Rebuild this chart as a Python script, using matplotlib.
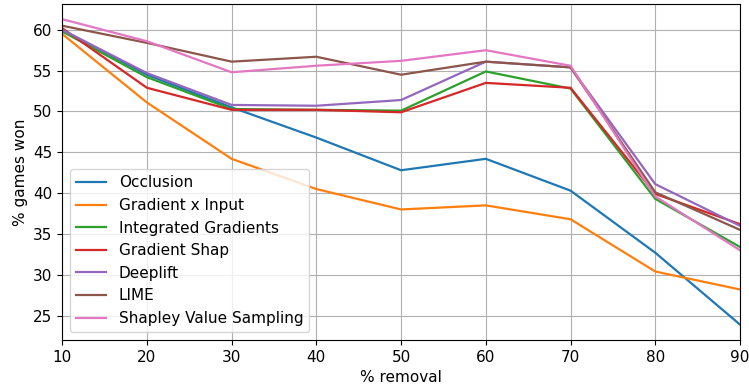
import matplotlib
matplotlib.use('Agg')
import matplotlib.pyplot as plt

removal = [10, 20, 30, 40, 50, 60, 70, 80, 90]

occlusion = [60.0, 54.5, 50.5, 46.8, 42.8, 44.2, 40.3, 32.7, 23.9]
grad_x_input = [59.5, 51.1, 44.2, 40.5, 38.0, 38.5, 36.8, 30.4, 28.2]
integrated_gradients = [59.8, 54.2, 50.3, 50.2, 50.1, 54.9, 52.8, 39.3, 33.4]
gradient_shap = [60.2, 52.9, 50.2, 50.2, 49.9, 53.5, 52.9, 39.9, 36.2]
deeplift = [60.0, 54.7, 50.8, 50.7, 51.4, 56.1, 55.4, 41.1, 36.0]
lime = [60.5, 58.4, 56.1, 56.7, 54.5, 56.1, 55.4, 40.1, 35.5]
shapley = [61.3, 58.6, 54.8, 55.6, 56.2, 57.5, 55.6, 39.6, 33.0]

series = [
    ('Occlusion', occlusion),
    ('Gradient x Input', grad_x_input),
    ('Integrated Gradients', integrated_gradients),
    ('Gradient Shap', gradient_shap),
    ('Deeplift', deeplift),
    ('LIME', lime),
    ('Shapley Value Sampling', shapley),
]

plt.rcParams['font.size'] = 11

fig, ax = plt.subplots(figsize=(7.49, 3.92), dpi=100)
for name, vals in series:
    ax.plot(removal, vals, label=name, linewidth=1.6)

ax.set_xlim(10, 90)
ax.set_xlabel('% removal')
ax.set_ylabel('% games won')
ax.grid(True)
ax.legend(loc='lower left')

fig.subplots_adjust(left=0.083, right=0.988, top=0.99, bottom=0.133)
plt.savefig('out.png')
